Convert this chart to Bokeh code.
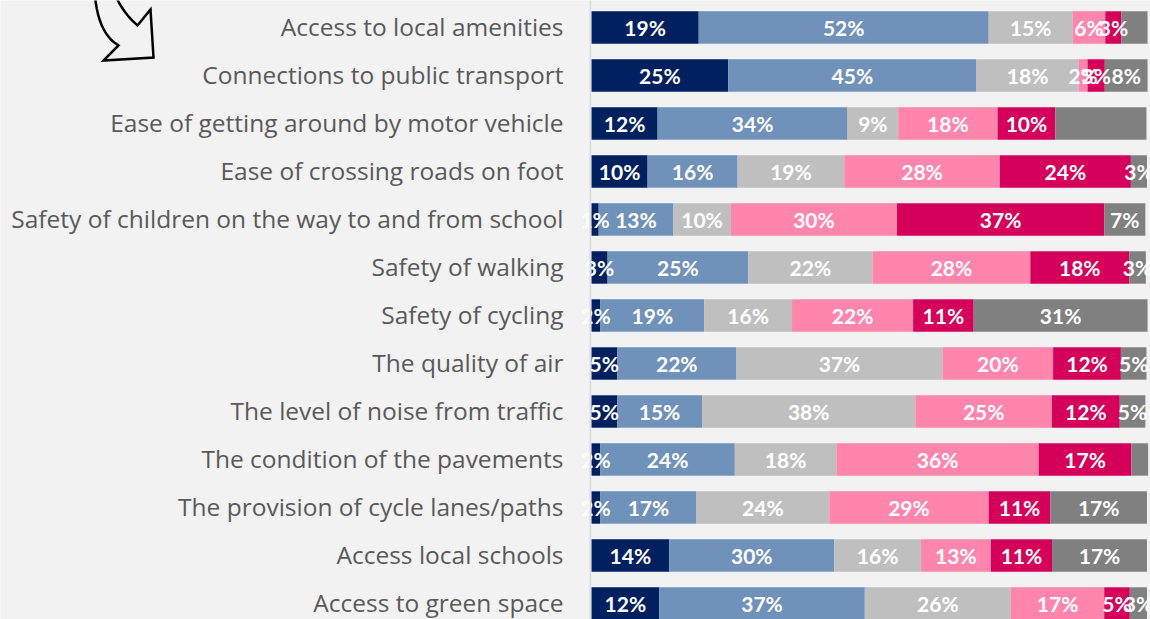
from bokeh.plotting import figure
from bokeh.models import ColumnDataSource, Range1d, Span
from bokeh.core.properties import value
from bokeh.embed import file_html
from bokeh.resources import INLINE

categories = [
    "Access to local amenities",
    "Connections to public transport",
    "Ease of getting around by motor vehicle",
    "Ease of crossing roads on foot",
    "Safety of children on the way to and from school",
    "Safety of walking",
    "Safety of cycling",
    "The quality of air",
    "The level of noise from traffic",
    "The condition of the pavements",
    "The provision of cycle lanes/paths",
    "Access local schools",
    "Access to green space",
]

series_names = ["s1", "s2", "s3", "s4", "s5", "s6"]
s1 = [19.3, 24.6, 11.9, 10.1, 1.3, 2.9, 1.6, 4.6, 4.6, 1.6, 1.6, 14.0, 12.2]
s2 = [52.2, 44.7, 34.2, 16.2, 13.4, 25.3, 18.7, 21.5, 15.3, 24.2, 17.3, 29.7, 37.0]
s3 = [15.1, 18.4, 9.1, 19.2, 10.4, 22.4, 15.8, 37.1, 38.4, 18.3, 23.9, 15.6, 26.3]
s4 = [5.9, 1.6, 17.9, 28.0, 29.9, 28.4, 21.8, 19.9, 24.6, 36.4, 28.7, 12.6, 16.8]
s5 = [2.9, 3.1, 10.4, 23.6, 37.3, 17.8, 10.9, 12.2, 12.2, 16.7, 11.1, 11.0, 4.6]
s6 = [4.7, 7.7, 16.4, 2.9, 7.4, 3.0, 31.3, 4.6, 4.6, 3.0, 17.4, 17.1, 3.1]
# segments whose value label is not shown in the original (row index, series index)
hidden_labels = [(0, 5), (2, 5), (9, 5)]

colors = ["#002060", "#6F91BA", "#BFBFBF", "#FF85AD", "#D4005A", "#808080"]

# layout (pixels)
W, H = 1150, 619
X0_PX = 591.0          # pixel where 0% sits
PX_PER_PCT = 5.555     # pixel per percent
ROW_PX = 48.0          # pixel per row
TOP_ROW_PX = 27.0      # centre of first row from top

n = len(categories)
ys = [n - 1 - i for i in range(n)]

x_start = -X0_PX / PX_PER_PCT
x_end = (W - X0_PX) / PX_PER_PCT
y_end = (n - 1) + TOP_ROW_PX / ROW_PX
y_start = y_end - H / ROW_PX

p = figure(width=W, height=H, x_range=Range1d(x_start, x_end), y_range=Range1d(y_start, y_end),
           x_axis_type=None, y_axis_type=None, toolbar_location=None, output_backend="svg",
           min_border=0, background_fill_color="#F2F2F2", border_fill_color="#F2F2F2",
           outline_line_color=None)
p.grid.visible = False

data = {"y": ys, "cat": categories}
vals = [s1, s2, s3, s4, s5, s6]
for name, v in zip(series_names, vals):
    data[name] = v
src = ColumnDataSource(data)

p.add_layout(Span(location=-0.2, dimension="height", line_color="#D9D9D9", line_width=1.5))

p.hbar_stack(series_names, y="y", height=0.675, color=colors, source=src, line_color=None)

# value labels
lx, ly, lt = [], [], []
for i in range(n):
    left = 0.0
    for j, v in enumerate(vals):
        val = v[i]
        if (i, j) not in hidden_labels:
            lx.append(left + val / 2)
            ly.append(ys[i])
            lt.append(f"{int(val + 0.5)}%")
        left += val
p.text(x=lx, y=ly, text=lt, text_color="white", text_font=value("Lato"), text_font_style="bold",
       text_font_size="21px", text_align="center", text_baseline="middle")

# category labels
p.text(x=[0] * n, y=ys, text=categories, x_offset=-28, y_offset=-1, text_color="#595959",
       text_font=value("Open Sans"), text_font_size="24.5px", text_align="right", text_baseline="middle")

# decorative curved arrow (pixel outline -> data units)
def bez(p0, c, p1, k=12):
    pts = []
    for t in [i / k for i in range(k + 1)]:
        x = (1 - t) ** 2 * p0[0] + 2 * (1 - t) * t * c[0] + t ** 2 * p1[0]
        y = (1 - t) ** 2 * p0[1] + 2 * (1 - t) * t * c[1] + t ** 2 * p1[1]
        pts.append((x, y))
    return pts

outline = bez((94, -12), (96, 32), (118, 45))
outline += [(103, 60), (153, 57), (150, 9), (137, 25)]
outline += bez((137, 25), (120, 10), (112, -12))[1:]
ax = [(px - X0_PX) / PX_PER_PCT for px, _ in outline]
ay = [y_end - py / ROW_PX for _, py in outline]
p.patch(ax, ay, fill_color=None, line_color="black", line_width=2.5, line_join="miter")

open("out.html", "w").write(file_html(p, INLINE))
